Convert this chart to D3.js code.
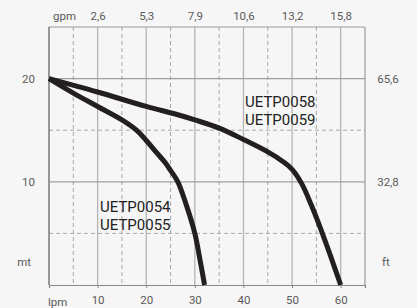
<!DOCTYPE html>
<html><head><meta charset="utf-8">
<script src="https://cdn.jsdelivr.net/npm/d3@7"></script>
<style>
html,body{margin:0;padding:0;background:#f6f6f6;}
svg{display:block;font-family:Roboto,"DejaVu Sans",sans-serif;}
</style></head><body>
<svg id="c" width="417" height="308"></svg>
<script>
// data
const lpmTicks = [10, 20, 30, 40, 50, 60];
const gpmLabels = ["2,6", "5,3", "7,9", "10,6", "13,2", "15,8"];
const mTicks = [10, 20];
const ftLabels = ["32,8", "65,6"];
const flowA = [0, 5, 10, 15, 18, 20, 22, 24, 25, 26.5, 28, 30, 31, 32];
const headA = [20, 18.6, 17.3, 16, 15, 14, 12.9, 11.8, 11.1, 10, 8.1, 5, 2.6, 0];
const flowB = [0, 10, 20, 26.5, 30, 35, 40, 45, 48, 50, 52, 54, 56, 58, 60];
const headB = [20, 18.7, 17.3, 16.5, 16, 15.2, 14.1, 12.9, 12, 11.2, 9.8, 7.7, 5.3, 2.7, 0];
const labelsA = ["UETP0054", "UETP0055"];
const labelsB = ["UETP0058", "UETP0059"];

const svg = d3.select("#c");
const x = d3.scaleLinear().domain([0, 65]).range([49, 365]);
const y = d3.scaleLinear().domain([0, 25]).range([285, 27]);
const g = svg.append("g");

// grid
const dashX = [5, 15, 25, 35, 45, 55];
const dashY = [5, 15];
g.selectAll(".vd").data(dashX).join("line")
  .attr("x1", d => x(d)).attr("x2", d => x(d)).attr("y1", y(25)).attr("y2", y(0))
  .attr("stroke", "#a8a8a8").attr("stroke-width", 1).attr("stroke-dasharray", "4,3");
g.selectAll(".hd").data(dashY).join("line")
  .attr("x1", x(0)).attr("x2", x(65)).attr("y1", d => y(d)).attr("y2", d => y(d))
  .attr("stroke", "#a8a8a8").attr("stroke-width", 1).attr("stroke-dasharray", "4,3");
g.selectAll(".vs").data(lpmTicks).join("line")
  .attr("x1", d => x(d)).attr("x2", d => x(d)).attr("y1", y(25)).attr("y2", y(0))
  .attr("stroke", "#b4b4b4").attr("stroke-width", 1.3);
g.selectAll(".hs").data(mTicks).join("line")
  .attr("x1", x(0)).attr("x2", x(65)).attr("y1", d => y(d)).attr("y2", d => y(d))
  .attr("stroke", "#a0a0a0").attr("stroke-width", 1.2);
// border
g.append("line").attr("x1", x(0)).attr("x2", x(65)).attr("y1", y(25)).attr("y2", y(25)).attr("stroke", "#9a9a9a").attr("stroke-width", 1.2);
g.append("line").attr("x1", x(65)).attr("x2", x(65)).attr("y1", y(25)).attr("y2", y(0)).attr("stroke", "#9a9a9a").attr("stroke-width", 1.2);
g.append("line").attr("x1", x(0)).attr("x2", x(0)).attr("y1", y(25)).attr("y2", y(0)).attr("stroke", "#777").attr("stroke-width", 1.5);

// bottom axis
const bAxis = d3.axisBottom(x).tickValues([0].concat(lpmTicks)).tickSize(3).tickFormat(d => d === 0 ? "" : d);
const bg = svg.append("g").attr("transform", `translate(0,${y(0)})`).call(bAxis);
bg.select(".domain").attr("stroke", "#888").attr("stroke-width", 1.2);
bg.selectAll(".tick line").attr("stroke", "#888");
bg.selectAll("text").attr("fill", "#5a5a5a").attr("font-size", 11.5).attr("y", 11).attr("dy", "0.71em").attr("font-family", "Roboto");
svg.append("text").attr("x", 48).attr("y", 305.5).attr("fill", "#5a5a5a").attr("font-size", 11.5).text("lpm");

// top axis (gpm)
const tAxis = d3.axisTop(x).tickValues(lpmTicks).tickSize(0).tickFormat((d, i) => gpmLabels[i]);
const tg = svg.append("g").attr("transform", `translate(0,${y(25)})`).call(tAxis);
tg.select(".domain").remove();
tg.selectAll("text").attr("fill", "#5a5a5a").attr("font-size", 11.5).attr("y", -7).attr("dy", 0).attr("font-family", "Roboto");
svg.append("text").attr("x", 53).attr("y", 20).attr("fill", "#5a5a5a").attr("font-size", 11.5).text("gpm");

// left axis (m)
svg.selectAll(".lt").data(mTicks).join("text")
  .attr("x", 35).attr("y", d => y(d)).attr("dy", "0.35em").attr("text-anchor", "end")
  .attr("fill", "#5a5a5a").attr("font-size", 11.5).text(d => d);
svg.append("text").attr("x", 31).attr("y", y(2.2)).attr("dy", "0.35em").attr("text-anchor", "end")
  .attr("fill", "#5a5a5a").attr("font-size", 11.5).text("mt");
// right axis (ft)
svg.selectAll(".rt").data(mTicks).join("text")
  .attr("x", 388).attr("y", d => y(d)).attr("dy", "0.35em").attr("text-anchor", "middle")
  .attr("fill", "#5a5a5a").attr("font-size", 11.5).text((d, i) => ftLabels[i]);
svg.append("text").attr("x", 386).attr("y", y(2.2)).attr("dy", "0.35em").attr("text-anchor", "middle")
  .attr("fill", "#5a5a5a").attr("font-size", 11.5).text("ft");

// curves
const line = d3.line().x(d => x(d[0])).y(d => y(d[1])).curve(d3.curveCatmullRom.alpha(0.5));
const ptsA = flowA.map((f, i) => [f, headA[i]]);
const ptsB = flowB.map((f, i) => [f, headB[i]]);
[ptsA, ptsB].forEach(p => {
  svg.append("path").attr("d", line(p)).attr("fill", "none")
    .attr("stroke", "#231f20").attr("stroke-width", 5).attr("stroke-linejoin", "round");
});

// labels
svg.selectAll(".la").data(labelsA).join("text")
  .attr("x", 100).attr("y", (d, i) => 212 + i * 18).attr("fill", "#222").attr("font-size", 15).text(d => d);
svg.selectAll(".lb").data(labelsB).join("text")
  .attr("x", 245).attr("y", (d, i) => 107 + i * 18).attr("fill", "#222").attr("font-size", 15).text(d => d);
</script>
</body></html>
